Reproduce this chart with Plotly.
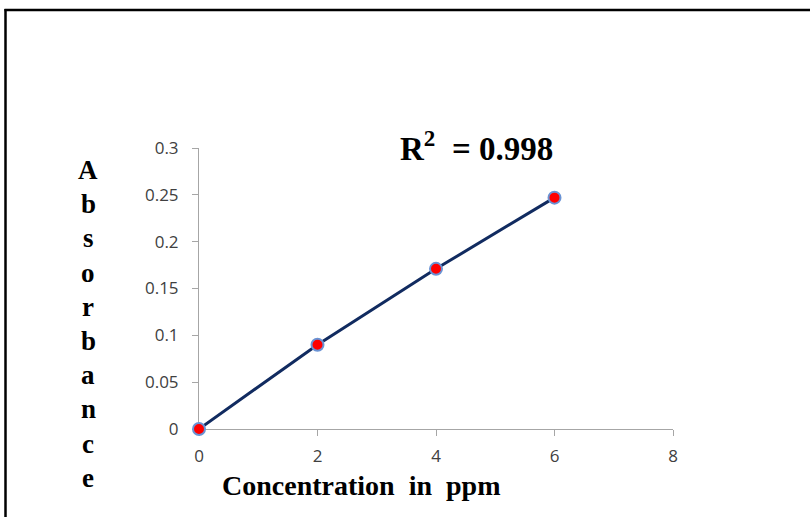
import plotly.graph_objects as go

concentration = [0, 2, 4, 6]
absorbance = [0.0, 0.09, 0.171, 0.247]
x_ticks = [0, 2, 4, 6, 8]
y_ticks = [0, 0.05, 0.1, 0.15, 0.2, 0.25, 0.3]
y_tick_labels = ["0", "0.05", "0.1", "0.15", "0.2", "0.25", "0.3"]
y_title_letters = list("Absorbance")
r2_text = "R<sup>2</sup>  = 0.998"
x_title = "Concentration  in  ppm"

W, H = 810, 517
L, R, T, B = 199, 673, 148, 429

def px_x(px):
    return (px - L) / (R - L)

def px_y(py):
    return (B - py) / (B - T)

fig = go.Figure()
fig.add_trace(go.Scatter(
    x=concentration, y=absorbance, mode="lines+markers",
    line=dict(color="#112B60", width=3),
    marker=dict(color="#FF0000", size=12, line=dict(color="#6A93D4", width=2)),
    cliponaxis=False, showlegend=False, hoverinfo="skip",
))

axis_font = dict(family="Open Sans, Liberation Sans, sans-serif", size=17, color="#404040")
fig.update_xaxes(range=[0, 8], tickvals=x_ticks, showgrid=False, zeroline=False,
                 showline=True, linecolor="#A6A6A6", linewidth=1,
                 ticks="outside", ticklen=6, tickcolor="#A6A6A6", layer="below traces",
                 tickfont=axis_font, ticklabelstandoff=6, fixedrange=True)
fig.update_yaxes(range=[0, 0.3], tickvals=y_ticks, ticktext=y_tick_labels,
                 showgrid=False, zeroline=False,
                 showline=True, linecolor="#A6A6A6", linewidth=1,
                 ticks="outside", ticklen=6, tickcolor="#A6A6A6", layer="below traces",
                 tickfont=axis_font, ticklabelstandoff=10, fixedrange=True)

serif = "Liberation Serif, Times New Roman, serif"
annotations = []
for i, ch in enumerate(y_title_letters):
    annotations.append(dict(
        x=px_x(88), y=px_y(170 + i * 34.2), xref="paper", yref="paper",
        text="<b>" + ch + "</b>", showarrow=False, xanchor="center", yanchor="middle",
        font=dict(family=serif, size=27, color="black"),
    ))
annotations.append(dict(
    x=px_x(361), y=px_y(485), xref="paper", yref="paper", text="<b>" + x_title + "</b>",
    showarrow=False, xanchor="center", yanchor="middle",
    font=dict(family=serif, size=28, color="black"),
))
annotations.append(dict(
    x=px_x(476), y=px_y(146), xref="paper", yref="paper", text="<b>" + r2_text + "</b>",
    showarrow=False, xanchor="center", yanchor="middle",
    font=dict(family=serif, size=33, color="black"),
))

shapes = [
    dict(type="line", xref="paper", yref="paper", x0=px_x(4.5), x1=px_x(812),
         y0=px_y(10), y1=px_y(10), line=dict(color="black", width=2.5)),
    dict(type="line", xref="paper", yref="paper", x0=px_x(5.5), x1=px_x(5.5),
         y0=px_y(9), y1=px_y(520), line=dict(color="black", width=2.5)),
]

fig.update_layout(
    width=W, height=H,
    margin=dict(l=L, r=W - R, t=T, b=H - B),
    paper_bgcolor="white", plot_bgcolor="white",
    annotations=annotations, shapes=shapes, hovermode=False,
)
fig.write_html("out.html", config={"displayModeBar": False, "staticPlot": True},
               post_script="document.body.style.margin='0';")
